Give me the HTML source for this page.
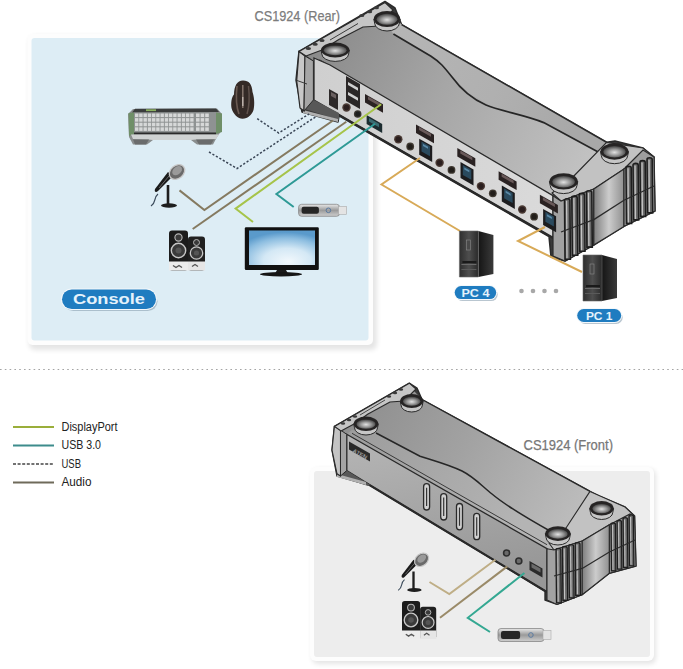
<!DOCTYPE html>
<html><head><meta charset="utf-8"><style>
html,body{margin:0;padding:0;background:#fff;width:683px;height:669px;overflow:hidden}
svg{display:block}
</style></head><body>
<svg width="683" height="669" viewBox="0 0 683 669" font-family="Liberation Sans">

<defs>
 <linearGradient id="topg" x1="0" y1="0" x2="1" y2="0.3">
  <stop offset="0" stop-color="#848484"/><stop offset="0.5" stop-color="#a6a6a6"/><stop offset="1" stop-color="#c2c2c2"/>
 </linearGradient>
 <linearGradient id="bandg" x1="0" y1="0" x2="1" y2="0.3">
  <stop offset="0" stop-color="#b6b6b6"/><stop offset="0.6" stop-color="#b0b0b0"/><stop offset="1" stop-color="#a8a8a8"/>
 </linearGradient>
 <linearGradient id="rearg" x1="0" y1="0" x2="1" y2="0">
  <stop offset="0" stop-color="#cfcfcf"/><stop offset="1" stop-color="#dadada"/>
 </linearGradient>
 <linearGradient id="capg" x1="0" y1="0" x2="1" y2="0">
  <stop offset="0" stop-color="#7e7e7e"/><stop offset="0.5" stop-color="#cccccc"/><stop offset="1" stop-color="#909090"/>
 </linearGradient>
 <linearGradient id="topg2" x1="0" y1="0" x2="1" y2="0.3">
  <stop offset="0" stop-color="#8a8a8a"/><stop offset="0.5" stop-color="#a2a2a2"/><stop offset="1" stop-color="#bebebe"/>
 </linearGradient>
 <linearGradient id="bandg2" x1="0" y1="0" x2="1" y2="0.3">
  <stop offset="0" stop-color="#9c9c9c"/><stop offset="1" stop-color="#b4b4b4"/>
 </linearGradient>
 <linearGradient id="frontg2" x1="0" y1="0" x2="0.25" y2="1">
  <stop offset="0" stop-color="#b6b6b6"/><stop offset="1" stop-color="#989898"/>
 </linearGradient>
 <linearGradient id="pcfront" x1="0" y1="0" x2="1" y2="0">
  <stop offset="0" stop-color="#2e2e2e"/><stop offset="0.5" stop-color="#4e4e4e"/><stop offset="1" stop-color="#2a2a2a"/>
 </linearGradient>
 <linearGradient id="pcside" x1="0" y1="0" x2="1" y2="0">
  <stop offset="0" stop-color="#151515"/><stop offset="1" stop-color="#3a3a3a"/>
 </linearGradient>
 <radialGradient id="footg" cx="0.5" cy="0.55" r="0.55">
  <stop offset="0" stop-color="#e2e2e2"/><stop offset="0.5" stop-color="#989898"/><stop offset="1" stop-color="#404040"/>
 </radialGradient>
 <radialGradient id="screeng" cx="0.55" cy="0.85" r="0.8" fx="0.6" fy="0.9">
  <stop offset="0" stop-color="#f2f8fc"/><stop offset="0.45" stop-color="#d4e8f5"/><stop offset="0.8" stop-color="#8cbde0"/><stop offset="1" stop-color="#5a9acb"/>
 </radialGradient>
 <linearGradient id="usbg" x1="0" y1="0" x2="0" y2="1">
  <stop offset="0" stop-color="#e8e8e8"/><stop offset="0.5" stop-color="#9a9a9a"/><stop offset="1" stop-color="#d0d0d0"/>
 </linearGradient>
 <linearGradient id="pcf" x1="0" y1="0" x2="1" y2="0">
  <stop offset="0" stop-color="#2a2a2a"/><stop offset="1" stop-color="#4a4a4a"/>
 </linearGradient>
 <filter id="sh" x="-5%" y="-5%" width="115%" height="115%">
  <feGaussianBlur stdDeviation="2.5"/>
 </filter>
</defs>

<rect x="29" y="36" width="348" height="314" rx="6" fill="#000" opacity="0.10" filter="url(#sh)"/>
<rect x="27.5" y="34" width="345.5" height="311" rx="5" fill="#fdfdfd"/>
<rect x="31.5" y="38" width="337" height="302.5" rx="3" fill="#ddedf5"/>
<rect x="312" y="469" width="344" height="195" rx="6" fill="#000" opacity="0.10" filter="url(#sh)"/>
<rect x="310" y="467" width="344" height="194" rx="6" fill="#fdfdfd"/>
<rect x="314" y="471" width="336" height="186" rx="3" fill="#ededed"/>
<line x1="0" y1="369.5" x2="683" y2="369.5" stroke="#a4a4a4" stroke-width="1.1" stroke-dasharray="1.6 3.2"/>
<text x="254.5" y="20.5" font-family="Liberation Sans" font-size="15.2" fill="#7c7c7c" stroke="#7c7c7c" stroke-width="0.25" textLength="85.5" lengthAdjust="spacingAndGlyphs">CS1924 (Rear)</text>
<text x="523.5" y="449.8" font-family="Liberation Sans" font-size="14" fill="#777" stroke="#777" stroke-width="0.25" textLength="89.5" lengthAdjust="spacingAndGlyphs">CS1924 (Front)</text>
<line x1="13" y1="427" x2="54" y2="427" stroke="#9aae3a" stroke-width="2.2"/>
<text x="61.5" y="430.5" font-family="Liberation Sans" font-size="12" fill="#222" textLength="56" lengthAdjust="spacingAndGlyphs">DisplayPort</text>
<line x1="13" y1="445.5" x2="54" y2="445.5" stroke="#3d8c8c" stroke-width="2.2"/>
<text x="61.5" y="449" font-family="Liberation Sans" font-size="12" fill="#222" textLength="39.5" lengthAdjust="spacingAndGlyphs">USB 3.0</text>
<line x1="13" y1="464" x2="54" y2="464" stroke="#444" stroke-width="1.4" stroke-dasharray="3 1.6"/>
<text x="61.5" y="467.5" font-family="Liberation Sans" font-size="12" fill="#222" textLength="19.5" lengthAdjust="spacingAndGlyphs">USB</text>
<line x1="13" y1="482.5" x2="54" y2="482.5" stroke="#6f6a5a" stroke-width="2.2"/>
<text x="61.5" y="486" font-family="Liberation Sans" font-size="12" fill="#222" textLength="30" lengthAdjust="spacingAndGlyphs">Audio</text>
<polygon points="299.0,51.4 385.0,1.5 395.0,8.0 401.6,24.6 606.6,142.3 615.0,141.0 643.0,148.0 654.0,157.0 655.0,211.0 624.0,226.4 593.8,245.0 565.0,261.0 551.0,257.0 549.0,236.6 339.0,115.9 338.0,122.0 302.0,112.0 296.0,80.0" fill="#3a3a3a" stroke="#2a2a2a" stroke-width="1.5" stroke-linejoin="round"/>
<polygon points="301.0,52.0 385.0,4.0 401.6,24.6 606.6,142.3 643.0,150.0 624.0,169.0 593.8,189.0 561.0,201.0 553.0,195.7 320.0,59.4 314.0,61.0" fill="url(#topg)"/>
<polygon points="401.6,24.6 606.6,142.3 604.6,155.4 543.7,122.6 496.8,108.5 468.7,93.3 449.6,74.0 431.0,56.2 393.4,34.0 385.0,20.0" fill="url(#bandg)"/>
<path d="M393.4,34 L431,56.2 C440,62 444,67 452,77 C460,88 470,98 486,105 C500,111 525,115 543.7,122.6 L604.6,155.4" fill="none" stroke="#262626" stroke-width="1.7"/>
<line x1="401.6" y1="24.6" x2="606.6" y2="142.3" stroke="#2a2a2a" stroke-width="1.6"/>
<path d="M607,165 L588,181 L553,194" fill="none" stroke="#444" stroke-width="1"/>
<polygon points="552.0,193.0 570.0,180.0 606.6,142.3 643.0,148.0 654.0,157.0 624.0,169.0 593.8,189.0 561.0,201.0" fill="#c2c2c2" stroke="#2a2a2a" stroke-width="1.2" stroke-linejoin="round"/>
<polygon points="314.0,58.0 330.0,65.0 553.0,195.7 553.0,237.4 314.0,100.0" fill="url(#rearg)" stroke="#2a2a2a" stroke-width="1.3"/>
<line x1="330" y1="110.0" x2="553" y2="238.2" stroke="#2a2a2a" stroke-width="1.8"/>
<polygon points="313.4,99.7 339.0,113.0 339.0,120.0 305.0,109.0" fill="#585858"/>
<polygon points="303,110 338,119 338,122 303,113" fill="#b0b0b0"/>
<polygon points="299.0,51.4 305.0,56.0 304.0,111.0 300.0,108.0 296.7,80.8" fill="#c8c8c8" stroke="#2a2a2a" stroke-width="1.2"/>
<polygon points="305.0,56.0 313.4,61.0 313.4,100.0 304.0,111.0" fill="#a6a6a6" stroke="#2a2a2a" stroke-width="1"/>
<line x1="297" y1="80.5" x2="307" y2="84" stroke="#3a3a3a" stroke-width="1"/>
<polygon points="553.0,195.7 561.0,201.0 593.8,189.0 593.8,245.0 565.0,261.0 553.0,256.0" fill="#a2a2a2" stroke="#2a2a2a" stroke-width="1.2"/>
<path d="M564.5,200.3 A2.7 1.6 0 0 1 569.9,200.3 L570.4,259.3 L565.0,259.3 Z" fill="#6a6a6a" stroke="#1e1e1e" stroke-width="1.56"/><line x1="566.6" y1="200.7" x2="567.0" y2="258.3" stroke="#c4c4c4" stroke-width="1.32"/>
<path d="M571.8,197.7 A2.7 1.6 0 0 1 577.2,197.7 L577.7,255.2 L572.3,255.2 Z" fill="#6a6a6a" stroke="#1e1e1e" stroke-width="1.56"/><line x1="573.9" y1="198.0" x2="574.3" y2="254.2" stroke="#c4c4c4" stroke-width="1.32"/>
<path d="M579.1,195.0 A2.7 1.6 0 0 1 584.5,195.0 L585.0,251.2 L579.6,251.2 Z" fill="#6a6a6a" stroke="#1e1e1e" stroke-width="1.56"/><line x1="581.2" y1="195.4" x2="581.6" y2="250.2" stroke="#c4c4c4" stroke-width="1.32"/>
<path d="M586.4,192.3 A2.7 1.6 0 0 1 591.8,192.3 L592.3,247.1 L586.9,247.1 Z" fill="#6a6a6a" stroke="#1e1e1e" stroke-width="1.56"/><line x1="588.5" y1="192.7" x2="588.9" y2="246.1" stroke="#c4c4c4" stroke-width="1.32"/>
<polygon points="593.8,189.0 624.0,169.0 624.0,226.4 593.8,245.0" fill="url(#capg)" stroke="#2a2a2a" stroke-width="1.2"/>
<line x1="593.8" y1="219.6" x2="624" y2="200.2" stroke="#2a2a2a" stroke-width="1.3"/>
<polygon points="624.0,169.0 643.0,150.0 654.0,157.0 655.0,211.0 624.0,226.4" fill="#9e9e9e" stroke="#2a2a2a" stroke-width="1.2"/>
<path d="M626.0,167.8 A2.6 1.6 0 0 1 631.2,167.8 L631.7,223.4 L626.5,223.4 Z" fill="#6a6a6a" stroke="#1e1e1e" stroke-width="1.56"/><line x1="628.0" y1="168.2" x2="628.4" y2="222.4" stroke="#c4c4c4" stroke-width="1.32"/>
<path d="M633.0,165.0 A2.6 1.6 0 0 1 638.2,165.0 L638.7,219.9 L633.5,219.9 Z" fill="#6a6a6a" stroke="#1e1e1e" stroke-width="1.56"/><line x1="635.0" y1="165.4" x2="635.4" y2="218.9" stroke="#c4c4c4" stroke-width="1.32"/>
<path d="M640.0,162.2 A2.6 1.6 0 0 1 645.2,162.2 L645.7,216.4 L640.5,216.4 Z" fill="#6a6a6a" stroke="#1e1e1e" stroke-width="1.56"/><line x1="642.0" y1="162.6" x2="642.4" y2="215.4" stroke="#c4c4c4" stroke-width="1.32"/>
<path d="M647.0,159.4 A2.6 1.6 0 0 1 652.2,159.4 L652.7,212.9 L647.5,212.9 Z" fill="#6a6a6a" stroke="#1e1e1e" stroke-width="1.56"/><line x1="649.0" y1="159.8" x2="649.4" y2="211.9" stroke="#c4c4c4" stroke-width="1.32"/>
<line x1="561" y1="232" x2="593.8" y2="219.6" stroke="#2a2a2a" stroke-width="1.2"/>
<line x1="624" y1="200.2" x2="654" y2="186" stroke="#2a2a2a" stroke-width="1.2"/>
<polygon points="299.0,51.5 385.0,2.5 393.0,10.0 380.0,26.0 363.0,27.0 338.8,39.5 322.0,50.0 306.0,56.0" fill="#c6c6c6" stroke="#2a2a2a" stroke-width="1.2" stroke-linejoin="round"/>
<ellipse cx="308.4" cy="48.5" rx="2.6" ry="1.5" fill="#3a3a3a"/>
<ellipse cx="315.2" cy="44.3" rx="2.6" ry="1.5" fill="#3a3a3a"/>
<ellipse cx="322" cy="40.5" rx="2.6" ry="1.5" fill="#3a3a3a"/>
<ellipse cx="361.8" cy="15.5" rx="2.6" ry="1.5" fill="#3a3a3a"/>
<ellipse cx="369.6" cy="11.7" rx="2.6" ry="1.5" fill="#3a3a3a"/>
<ellipse cx="376.4" cy="7.8" rx="2.6" ry="1.5" fill="#3a3a3a"/>
<path d="M330,40 L358,23.5" stroke="#3a3a3a" stroke-width="1" fill="none"/>
<path d="M373.8,19.0 L374.6,23.0 A12.4 8.0 0 0 0 399.4,23.0 L400.2,19.0 Z" fill="#c6c6c6" stroke="#2a2a2a" stroke-width="1"/>
<ellipse cx="387" cy="19" rx="13.2" ry="8" fill="#262424"/>
<ellipse cx="387" cy="19.3" rx="10.4" ry="5.5" fill="url(#footg)"/>
<path d="M321.0,50.0 L321.8,54.0 A13.4 7.4 0 0 0 348.6,54.0 L349.4,50.0 Z" fill="#c6c6c6" stroke="#2a2a2a" stroke-width="1"/>
<ellipse cx="335.2" cy="50" rx="14.2" ry="7.4" fill="#262424"/>
<ellipse cx="335.2" cy="50.3" rx="11.4" ry="4.9" fill="url(#footg)"/>
<path d="M600.5,151.5 L601.3,155.5 A13.2 8.2 0 0 0 627.7,155.5 L628.5,151.5 Z" fill="#c6c6c6" stroke="#2a2a2a" stroke-width="1"/>
<ellipse cx="614.5" cy="151.5" rx="14" ry="8.2" fill="#262424"/>
<ellipse cx="614.5" cy="151.8" rx="11.2" ry="5.7" fill="url(#footg)"/>
<path d="M549.4,181.4 L550.2,185.4 A13.4 8.2 0 0 0 577.0,185.4 L577.8,181.4 Z" fill="#c6c6c6" stroke="#2a2a2a" stroke-width="1"/>
<ellipse cx="563.6" cy="181.4" rx="14.2" ry="8.2" fill="#262424"/>
<ellipse cx="563.6" cy="181.7" rx="11.4" ry="5.7" fill="url(#footg)"/>
<polygon points="329.0,89.0 338.0,94.1 338.0,110.1 329.0,105.0" fill="#2e2a2a"/>
<polygon points="331.0,92.0 336.0,94.8 336.0,98.8 331.0,96.0" fill="#6a6060"/>
<polygon points="346.0,76.0 360.0,84.0 360.0,109.0 346.0,101.0" fill="#2a2626"/>
<polygon points="348.0,82.0 358.0,87.7 358.0,90.7 348.0,85.0" fill="#d0d0d0"/>
<polygon points="348.0,92.0 358.0,97.7 358.0,100.7 348.0,95.0" fill="#d0d0d0"/>
<polygon points="365.0,94.0 383.0,104.3 383.0,112.8 365.0,102.5" fill="#2a2222"/>
<polygon points="368.0,96.5 380.0,103.3 380.0,106.3 368.0,99.5" fill="#6a5a5a"/>
<polygon points="366.6,115.0 382.2,123.9 382.2,132.9 366.6,124.0" fill="#1c2c30"/>
<polygon points="369.0,118.0 379.0,123.7 379.0,127.2 369.0,121.5" fill="#3a6a70"/>
<circle cx="346.5" cy="107.5" r="4.2" fill="#4a3a34"/><circle cx="346.5" cy="107.5" r="2.8" fill="#2a1e1e"/>
<circle cx="357.7" cy="114" r="3.8" fill="#3a3630"/><circle cx="357.7" cy="114" r="2.5" fill="#1e1e1e"/>
<polygon points="416.0,124.5 434.0,134.8 434.0,143.3 416.0,133.0" fill="#2a2222"/>
<polygon points="419.0,127.0 431.0,133.8 431.0,136.8 419.0,130.0" fill="#6a5a5a"/>
<polygon points="419.2,138.7 432.2,146.1 432.2,162.1 419.2,154.7" fill="#1c1c1e"/>
<polygon points="421.5,141.5 430.0,146.3 430.0,156.3 421.5,151.5" fill="#2a4a5e"/>
<polygon points="423.0,144.0 428.0,146.8 428.0,148.8 423.0,146.0" fill="#5a8aa8"/>
<circle cx="398.3" cy="139.3" r="4.2" fill="#4a3a34"/><circle cx="398.3" cy="139.3" r="2.8" fill="#2a1e1e"/>
<circle cx="410.2" cy="146.5" r="3.9" fill="#3e3830"/><circle cx="410.2" cy="146.5" r="2.6" fill="#221e1a"/>
<polygon points="457.3,147.9 475.3,158.2 475.3,166.7 457.3,156.4" fill="#2a2222"/>
<polygon points="460.3,150.4 472.3,157.2 472.3,160.2 460.3,153.4" fill="#6a5a5a"/>
<polygon points="460.5,162.1 473.5,169.5 473.5,185.5 460.5,178.1" fill="#1c1c1e"/>
<polygon points="462.8,164.9 471.3,169.7 471.3,179.7 462.8,174.9" fill="#2a4a5e"/>
<polygon points="464.3,167.4 469.3,170.2 469.3,172.2 464.3,169.4" fill="#5a8aa8"/>
<circle cx="439.6" cy="162.7" r="4.2" fill="#4a3a34"/><circle cx="439.6" cy="162.7" r="2.8" fill="#2a1e1e"/>
<circle cx="451.5" cy="169.9" r="3.9" fill="#3e3830"/><circle cx="451.5" cy="169.9" r="2.6" fill="#221e1a"/>
<polygon points="498.6,171.3 516.6,181.6 516.6,190.1 498.6,179.8" fill="#2a2222"/>
<polygon points="501.6,173.8 513.6,180.6 513.6,183.6 501.6,176.8" fill="#6a5a5a"/>
<polygon points="501.8,185.5 514.8,192.9 514.8,208.9 501.8,201.5" fill="#1c1c1e"/>
<polygon points="504.1,188.3 512.6,193.1 512.6,203.1 504.1,198.3" fill="#2a4a5e"/>
<polygon points="505.6,190.8 510.6,193.7 510.6,195.7 505.6,192.8" fill="#5a8aa8"/>
<circle cx="480.9" cy="186.1" r="4.2" fill="#4a3a34"/><circle cx="480.9" cy="186.1" r="2.8" fill="#2a1e1e"/>
<circle cx="492.8" cy="193.3" r="3.9" fill="#3e3830"/><circle cx="492.8" cy="193.3" r="2.6" fill="#221e1a"/>
<polygon points="539.9,194.7 557.9,205.0 557.9,213.5 539.9,203.2" fill="#2a2222"/>
<polygon points="542.9,197.2 554.9,204.0 554.9,207.0 542.9,200.2" fill="#6a5a5a"/>
<polygon points="543.1,208.9 556.1,216.3 556.1,232.3 543.1,224.9" fill="#1c1c1e"/>
<polygon points="545.4,211.7 553.9,216.5 553.9,226.5 545.4,221.7" fill="#2a4a5e"/>
<polygon points="546.9,214.2 551.9,217.0 551.9,219.0 546.9,216.2" fill="#5a8aa8"/>
<circle cx="522.2" cy="209.5" r="4.2" fill="#4a3a34"/><circle cx="522.2" cy="209.5" r="2.8" fill="#2a1e1e"/>
<circle cx="534.1" cy="216.7" r="3.9" fill="#3e3830"/><circle cx="534.1" cy="216.7" r="2.6" fill="#221e1a"/>
<polyline points="257.2,118.7 278.7,133.0 309.0,114.0" fill="none" stroke="#3a4656" stroke-width="1.5" stroke-linejoin="miter" stroke-dasharray="2.2 1.8"/>
<polyline points="209.0,152.0 237.0,168.5 316.0,116.6" fill="none" stroke="#3a4656" stroke-width="1.5" stroke-linejoin="miter" stroke-dasharray="2.2 1.8"/>
<polyline points="179.5,190.4 204.4,210.0 333.0,120.5" fill="none" stroke="#857a60" stroke-width="2.0" stroke-linejoin="miter"/>
<polyline points="192.7,229.0 346.3,121.8" fill="none" stroke="#857a60" stroke-width="2.0" stroke-linejoin="miter"/>
<polyline points="253.0,222.0 235.6,208.6 381.2,104.3" fill="none" stroke="#a6c44a" stroke-width="2.0" stroke-linejoin="miter"/>
<polyline points="293.7,207.0 276.4,194.0 375.0,123.8" fill="none" stroke="#2e9a96" stroke-width="2.0" stroke-linejoin="miter"/>
<polyline points="420.0,158.0 381.5,184.5 460.0,231.0" fill="none" stroke="#d8aa58" stroke-width="2.0" stroke-linejoin="miter"/>
<polyline points="545.0,227.0 518.0,241.0 582.0,272.0" fill="none" stroke="#d8aa58" stroke-width="2.0" stroke-linejoin="miter"/>
<path d="M133,109 L217,108.5 L222,114 L222,130 L217,137 L213,144.5 L197,144.5 L191,140 L153,140 L147,144.5 L133,144.5 L129,137 L128,114 Z" fill="#8a8e8e"/>
<path d="M135,108.8 L216,108.5 L219,112 L132,112.5 Z" fill="#3a3c3c"/>
<rect x="146" y="109.3" width="10" height="1.8" fill="#8ab060"/>
<rect x="134" y="112.5" width="82" height="20" fill="#8e9292"/>
<rect x="135.0" y="113.5" width="3.4" height="3.6" fill="#d6d8d8"/>
<rect x="139.2" y="113.5" width="3.4" height="3.6" fill="#d6d8d8"/>
<rect x="143.5" y="113.5" width="3.4" height="3.6" fill="#d6d8d8"/>
<rect x="147.8" y="113.5" width="3.4" height="3.6" fill="#d6d8d8"/>
<rect x="152.0" y="113.5" width="3.4" height="3.6" fill="#d6d8d8"/>
<rect x="156.2" y="113.5" width="3.4" height="3.6" fill="#d6d8d8"/>
<rect x="160.5" y="113.5" width="3.4" height="3.6" fill="#d6d8d8"/>
<rect x="164.8" y="113.5" width="3.4" height="3.6" fill="#d6d8d8"/>
<rect x="169.0" y="113.5" width="3.4" height="3.6" fill="#d6d8d8"/>
<rect x="173.2" y="113.5" width="3.4" height="3.6" fill="#d6d8d8"/>
<rect x="177.5" y="113.5" width="3.4" height="3.6" fill="#d6d8d8"/>
<rect x="181.8" y="113.5" width="3.4" height="3.6" fill="#d6d8d8"/>
<rect x="186.0" y="113.5" width="3.4" height="3.6" fill="#d6d8d8"/>
<rect x="190.2" y="113.5" width="3.4" height="3.6" fill="#d6d8d8"/>
<rect x="135.0" y="118.1" width="3.4" height="3.6" fill="#d6d8d8"/>
<rect x="139.2" y="118.1" width="3.4" height="3.6" fill="#d6d8d8"/>
<rect x="143.5" y="118.1" width="3.4" height="3.6" fill="#d6d8d8"/>
<rect x="147.8" y="118.1" width="3.4" height="3.6" fill="#d6d8d8"/>
<rect x="152.0" y="118.1" width="3.4" height="3.6" fill="#d6d8d8"/>
<rect x="156.2" y="118.1" width="3.4" height="3.6" fill="#d6d8d8"/>
<rect x="160.5" y="118.1" width="3.4" height="3.6" fill="#d6d8d8"/>
<rect x="164.8" y="118.1" width="3.4" height="3.6" fill="#d6d8d8"/>
<rect x="169.0" y="118.1" width="3.4" height="3.6" fill="#d6d8d8"/>
<rect x="173.2" y="118.1" width="3.4" height="3.6" fill="#d6d8d8"/>
<rect x="177.5" y="118.1" width="3.4" height="3.6" fill="#d6d8d8"/>
<rect x="181.8" y="118.1" width="3.4" height="3.6" fill="#d6d8d8"/>
<rect x="186.0" y="118.1" width="3.4" height="3.6" fill="#d6d8d8"/>
<rect x="190.2" y="118.1" width="3.4" height="3.6" fill="#d6d8d8"/>
<rect x="135.0" y="122.7" width="3.4" height="3.6" fill="#d6d8d8"/>
<rect x="139.2" y="122.7" width="3.4" height="3.6" fill="#d6d8d8"/>
<rect x="143.5" y="122.7" width="3.4" height="3.6" fill="#d6d8d8"/>
<rect x="147.8" y="122.7" width="3.4" height="3.6" fill="#d6d8d8"/>
<rect x="152.0" y="122.7" width="3.4" height="3.6" fill="#d6d8d8"/>
<rect x="156.2" y="122.7" width="3.4" height="3.6" fill="#d6d8d8"/>
<rect x="160.5" y="122.7" width="3.4" height="3.6" fill="#d6d8d8"/>
<rect x="164.8" y="122.7" width="3.4" height="3.6" fill="#d6d8d8"/>
<rect x="169.0" y="122.7" width="3.4" height="3.6" fill="#d6d8d8"/>
<rect x="173.2" y="122.7" width="3.4" height="3.6" fill="#d6d8d8"/>
<rect x="177.5" y="122.7" width="3.4" height="3.6" fill="#d6d8d8"/>
<rect x="181.8" y="122.7" width="3.4" height="3.6" fill="#d6d8d8"/>
<rect x="186.0" y="122.7" width="3.4" height="3.6" fill="#d6d8d8"/>
<rect x="190.2" y="122.7" width="3.4" height="3.6" fill="#d6d8d8"/>
<rect x="135.0" y="127.3" width="3.4" height="3.6" fill="#d6d8d8"/>
<rect x="139.2" y="127.3" width="3.4" height="3.6" fill="#d6d8d8"/>
<rect x="143.5" y="127.3" width="3.4" height="3.6" fill="#d6d8d8"/>
<rect x="147.8" y="127.3" width="3.4" height="3.6" fill="#d6d8d8"/>
<rect x="152.0" y="127.3" width="3.4" height="3.6" fill="#d6d8d8"/>
<rect x="156.2" y="127.3" width="3.4" height="3.6" fill="#d6d8d8"/>
<rect x="160.5" y="127.3" width="3.4" height="3.6" fill="#d6d8d8"/>
<rect x="164.8" y="127.3" width="3.4" height="3.6" fill="#d6d8d8"/>
<rect x="169.0" y="127.3" width="3.4" height="3.6" fill="#d6d8d8"/>
<rect x="173.2" y="127.3" width="3.4" height="3.6" fill="#d6d8d8"/>
<rect x="177.5" y="127.3" width="3.4" height="3.6" fill="#d6d8d8"/>
<rect x="181.8" y="127.3" width="3.4" height="3.6" fill="#d6d8d8"/>
<rect x="186.0" y="127.3" width="3.4" height="3.6" fill="#d6d8d8"/>
<rect x="190.2" y="127.3" width="3.4" height="3.6" fill="#d6d8d8"/>
<rect x="196.0" y="113.5" width="3.6" height="3.6" fill="#d6d8d8"/>
<rect x="200.6" y="113.5" width="3.6" height="3.6" fill="#d6d8d8"/>
<rect x="205.2" y="113.5" width="3.6" height="3.6" fill="#d6d8d8"/>
<rect x="196.0" y="118.1" width="3.6" height="3.6" fill="#d6d8d8"/>
<rect x="200.6" y="118.1" width="3.6" height="3.6" fill="#d6d8d8"/>
<rect x="205.2" y="118.1" width="3.6" height="3.6" fill="#d6d8d8"/>
<rect x="196.0" y="122.7" width="3.6" height="3.6" fill="#d6d8d8"/>
<rect x="200.6" y="122.7" width="3.6" height="3.6" fill="#d6d8d8"/>
<rect x="205.2" y="122.7" width="3.6" height="3.6" fill="#d6d8d8"/>
<rect x="196.0" y="127.3" width="3.6" height="3.6" fill="#d6d8d8"/>
<rect x="200.6" y="127.3" width="3.6" height="3.6" fill="#d6d8d8"/>
<rect x="205.2" y="127.3" width="3.6" height="3.6" fill="#d6d8d8"/>
<path d="M128.5,113 L134,112.5 L134,134 L129,136 Z" fill="#6f8f68"/>
<path d="M216,112.5 L222,113.5 L222,132 L216,134 Z" fill="#6f8f68"/>
<rect x="134" y="132.5" width="82" height="2" fill="#2a2a2a"/>
<path d="M131,134.5 L219,134.5 L216,139 L196,139.5 L191,140 L153,140 L148,139.5 L133,139 Z" fill="#cfd2d2"/>
<path d="M133,139.5 L149,139.5 L146,144.5 L135,144.5 Z" fill="#6a6c6c"/>
<path d="M196,139.5 L214,139.5 L211,144.5 L199,144.5 Z" fill="#6a6c6c"/>
<path d="M243,80.4 C249,80.4 252,84 252.5,92 C254,96 255,104 253.5,110 C252,114.5 248,118.8 242.5,118.8 C238,118.8 233,114 231.5,108 C230.8,103 231.5,97 234,94.5 C234,86 237,80.4 243,80.4 Z" fill="#342a26"/>
<path d="M237,86 C236,95 236,106 239,114" stroke="#6a5a52" stroke-width="1.6" fill="none"/>
<path d="M248.5,86 C249.5,95 249.5,106 247,114" stroke="#5e504a" stroke-width="1.5" fill="none"/>
<path d="M242.8,85 L242.8,108" stroke="#8a7a72" stroke-width="1.4"/>
<path d="M242.8,97 L242.8,106" stroke="#c8beb8" stroke-width="1.2"/>
<path d="M158.0,194.0 C153.0,198.0 157.0,202.0 151.0,206.0" stroke="#3a4a5a" stroke-width="1.20" fill="none"/>
<line x1="168.0" y1="185.0" x2="168.0" y2="205.0" stroke="#1e1e1e" stroke-width="2.60"/>
<ellipse cx="169.0" cy="205.5" rx="8.0" ry="2.2" fill="#1e1e1e"/>
<path d="M173.0,176.0 L158.0,191.0 C156.0,193.0 154.0,192.0 155.0,189.0 L168.0,172.0 Z" fill="#1a1a1a"/>
<path d="M159.0,188.0 L169.0,176.0" stroke="#6a6a6a" stroke-width="1.00"/>
<ellipse cx="177.0" cy="172.0" rx="8.5" ry="6.5" transform="rotate(-40 177.0 172.0)" fill="#6a6a6a" stroke="#c8c8c8" stroke-width="1.30"/>
<ellipse cx="178.0" cy="171.0" rx="5.5" ry="3.8" transform="rotate(-40 177.0 172.0)" fill="#9a9a9a"/>
<rect x="169" y="230.5" width="19.0" height="40.0" rx="3.0" fill="#1c1c1c"/>
<rect x="169" y="261.5" width="19.0" height="9.0" fill="#ececec"/>
<circle cx="178.5" cy="237.5" r="3.6" fill="#3a3a3a" stroke="#b8b8b8" stroke-width="1.10"/>
<circle cx="178.5" cy="250.5" r="7.2" fill="#3a3a3a" stroke="#c8c8c8" stroke-width="1.40"/>
<circle cx="178.5" cy="250.5" r="3.0" fill="#555"/>
<path d="M173.0,265.5 l3.0,2.0 l3.0,-2.0 l3.0,2.0" stroke="#555" stroke-width="1.40" fill="none"/>
<rect x="188.0" y="236.5" width="17.0" height="34.0" rx="3.0" fill="#202020"/>
<rect x="188.0" y="261.5" width="17.0" height="9.0" fill="#e6e6e6"/>
<circle cx="196.5" cy="242.5" r="3.0" fill="#3a3a3a" stroke="#b8b8b8" stroke-width="1.00"/>
<circle cx="196.5" cy="253.0" r="6.2" fill="#3a3a3a" stroke="#c8c8c8" stroke-width="1.30"/>
<circle cx="196.5" cy="253.0" r="2.6" fill="#555"/>
<path d="M192.0,266.5 l3.0,-2.0 l3.0,2.0" stroke="#555" stroke-width="1.30" fill="none"/>
<rect x="244.8" y="227.2" width="74" height="42.8" rx="1.2" fill="#111"/>
<rect x="249" y="230.5" width="66" height="34.5" fill="url(#screeng)"/>
<path d="M277,270 L286,270 L288,273.5 L275,273.5 Z" fill="#1a1a1a"/>
<ellipse cx="281" cy="274.3" rx="21" ry="2.2" fill="#151515"/>
<rect x="298.6" y="204.3" width="41" height="12" rx="3" fill="url(#usbg)" stroke="#7a7a7a" stroke-width="0.7"/>
<rect x="338.6" y="206.3" width="8" height="8" fill="#e4e4e4" stroke="#aaa" stroke-width="0.6"/>
<rect x="301.6" y="206.8" width="17.3" height="7" rx="2" fill="#262626"/>
<circle cx="328.4" cy="210.3" r="2.3" fill="none" stroke="#5a7aa0" stroke-width="1"/>
<polygon points="478.4,231.0 493.4,235.0 493.4,274.0 478.4,277.0" fill="url(#pcside)"/>
<polygon points="459.4,231.0 478.4,231.0 478.4,277.0 459.4,277.0" fill="url(#pcfront)" stroke="#6a6a6a" stroke-width="0.6"/>
<rect x="466.4" y="240" width="4" height="10" fill="#4a4a4a" stroke="#8a8a8a" stroke-width="0.6"/>
<rect x="462.4" y="261" width="14" height="2.2" fill="#1a1a1a"/>
<rect x="461.4" y="264" width="15" height="1" fill="#6a6a6a"/>
<rect x="461.4" y="269" width="15" height="1" fill="#5a5a5a"/>
<polygon points="602.0,255.0 617.0,259.0 617.0,298.0 602.0,301.0" fill="url(#pcside)"/>
<polygon points="583.0,255.0 602.0,255.0 602.0,301.0 583.0,301.0" fill="url(#pcfront)" stroke="#6a6a6a" stroke-width="0.6"/>
<rect x="590" y="264" width="4" height="10" fill="#4a4a4a" stroke="#8a8a8a" stroke-width="0.6"/>
<rect x="586" y="285" width="14" height="2.2" fill="#1a1a1a"/>
<rect x="585" y="288" width="15" height="1" fill="#6a6a6a"/>
<rect x="585" y="293" width="15" height="1" fill="#5a5a5a"/>
<rect x="63.5" y="291.5" width="94" height="19.5" rx="9.75" fill="#8aa0b0" opacity="0.6"/>
<rect x="61" y="288.5" width="96" height="21.5" rx="10.75" fill="#f4f8fb"/>
<rect x="62" y="289.5" width="94" height="19.5" rx="9.75" fill="#1f7cc0"/>
<text x="109.0" y="304" text-anchor="middle" font-family="Liberation Sans" font-weight="bold" font-size="15.5" fill="#e4f2fb" textLength="72" lengthAdjust="spacingAndGlyphs">Console</text>
<rect x="456.2" y="288.1" width="41.5" height="13" rx="6.5" fill="#8aa0b0" opacity="0.6"/>
<rect x="453.7" y="285.1" width="43.5" height="15" rx="7.5" fill="#f4f8fb"/>
<rect x="454.7" y="286.1" width="41.5" height="13" rx="6.5" fill="#1f7cc0"/>
<text x="475.45" y="296.5" text-anchor="middle" font-family="Liberation Sans" font-weight="bold" font-size="10" fill="#e4f2fb" textLength="28" lengthAdjust="spacingAndGlyphs">PC 4</text>
<rect x="578.7" y="311" width="44" height="13" rx="6.5" fill="#8aa0b0" opacity="0.6"/>
<rect x="576.2" y="308" width="46" height="15" rx="7.5" fill="#f4f8fb"/>
<rect x="577.2" y="309" width="44" height="13" rx="6.5" fill="#1f7cc0"/>
<text x="599.2" y="319.6" text-anchor="middle" font-family="Liberation Sans" font-weight="bold" font-size="10" fill="#e4f2fb" textLength="26.6" lengthAdjust="spacingAndGlyphs">PC 1</text>
<circle cx="521.5" cy="291" r="2.3" fill="#a8a8a8"/>
<circle cx="533" cy="291" r="2.3" fill="#a8a8a8"/>
<circle cx="544.5" cy="291" r="2.3" fill="#a8a8a8"/>
<circle cx="556" cy="291" r="2.3" fill="#a8a8a8"/>
<polygon points="334.4,426.4 409.3,383.2 417.0,388.0 422.0,399.5 590.0,491.4 601.0,497.0 625.0,507.0 634.6,516.0 636.0,566.0 609.4,573.3 582.2,594.6 557.0,604.4 545.0,600.0 545.0,591.4 366.0,483.3 365.0,484.0 337.0,476.0 332.0,450.0" fill="#3a3a3a" stroke="#2a2a2a" stroke-width="1.4" stroke-linejoin="round"/>
<polygon points="336.0,427.0 409.3,386.0 422.0,399.5 590.0,491.4 632.0,514.0 609.4,524.7 582.2,542.0 554.0,550.0 547.0,548.7 346.7,434.3 340.5,430.0" fill="url(#topg2)"/>
<line x1="422" y1="399.5" x2="590" y2="491.4" stroke="#2a2a2a" stroke-width="1.4"/>
<polygon points="376.0,433.0 420.0,456.2 459.5,469.4 485.9,485.9 507.9,505.7 543.0,527.6 551.8,532.0 547.0,548.7 346.7,434.3 352.0,430.0" fill="url(#bandg2)"/>
<path d="M376,433 L420,456.2 C435,461 450,465 462,471 C474,477 482,486 492,494 C505,505 525,517 551.8,532" fill="none" stroke="#262626" stroke-width="1.5"/>
<polygon points="549.0,543.0 566.0,528.0 590.0,491.4 625.0,507.0 634.6,516.0 609.4,524.7 582.2,541.0 554.0,550.0" fill="#c2c2c2" stroke="#2a2a2a" stroke-width="1.1" stroke-linejoin="round"/>
<line x1="352" y1="433.3" x2="547" y2="544.7" stroke="#3a3a3a" stroke-width="1"/>
<polygon points="346.7,434.3 547.0,548.7 547.0,591.6 365.0,481.7 346.7,470.6" fill="url(#frontg2)" stroke="#2a2a2a" stroke-width="1.3"/>
<line x1="366" y1="482.9" x2="547" y2="592.2" stroke="#2a2a2a" stroke-width="1.6"/>
<polygon points="346.7,470.6 370.0,484.7 368.0,486.0 338.0,476.0" fill="#585858"/>
<polygon points="337,474 366,482 366,485 337,477" fill="#b0b0b0"/>
<polygon points="334.4,426.4 340.5,430.0 340.5,476.0 337.0,473.8 332.0,450.0" fill="#c4c4c4" stroke="#2a2a2a" stroke-width="1.1"/>
<polygon points="340.5,430.0 346.7,434.3 346.7,470.6 340.5,476.0" fill="#a4a4a4" stroke="#2a2a2a" stroke-width="1"/>
<polygon points="334.4,426.4 409.3,383.2 416.0,389.0 404.0,401.0 390.0,402.0 368.0,414.0 354.0,424.0 341.0,431.0" fill="#c6c6c6" stroke="#2a2a2a" stroke-width="1.1" stroke-linejoin="round"/>
<path d="M360,415 L385,400" stroke="#3a3a3a" stroke-width="0.9" fill="none"/>
<ellipse cx="343" cy="423.5" rx="2.2" ry="1.3" fill="#3a3a3a"/>
<ellipse cx="349" cy="420" rx="2.2" ry="1.3" fill="#3a3a3a"/>
<ellipse cx="355" cy="416.5" rx="2.2" ry="1.3" fill="#3a3a3a"/>
<ellipse cx="389" cy="396.5" rx="2.2" ry="1.3" fill="#3a3a3a"/>
<ellipse cx="395" cy="393" rx="2.2" ry="1.3" fill="#3a3a3a"/>
<ellipse cx="401" cy="389.5" rx="2.2" ry="1.3" fill="#3a3a3a"/>
<polygon points="547.0,548.7 554.0,550.0 582.2,541.0 582.2,594.6 557.0,604.4 547.0,600.0" fill="#a2a2a2" stroke="#2a2a2a" stroke-width="1.1"/>
<path d="M556.0,549.8 A2.4 1.4 0 0 1 560.8,549.8 L561.3,602.8 L556.5,602.8 Z" fill="#6a6a6a" stroke="#1e1e1e" stroke-width="1.30"/><line x1="557.8" y1="550.4" x2="558.2" y2="601.8" stroke="#c4c4c4" stroke-width="1.10"/>
<path d="M562.4,547.9 A2.4 1.4 0 0 1 567.2,547.9 L567.7,600.3 L562.9,600.3 Z" fill="#6a6a6a" stroke="#1e1e1e" stroke-width="1.30"/><line x1="564.2" y1="548.5" x2="564.6" y2="599.3" stroke="#c4c4c4" stroke-width="1.10"/>
<path d="M568.8,546.0 A2.4 1.4 0 0 1 573.6,546.0 L574.1,597.8 L569.3,597.8 Z" fill="#6a6a6a" stroke="#1e1e1e" stroke-width="1.30"/><line x1="570.6" y1="546.6" x2="571.0" y2="596.8" stroke="#c4c4c4" stroke-width="1.10"/>
<path d="M575.2,544.1 A2.4 1.4 0 0 1 580.0,544.1 L580.5,595.3 L575.7,595.3 Z" fill="#6a6a6a" stroke="#1e1e1e" stroke-width="1.30"/><line x1="577.0" y1="544.6" x2="577.4" y2="594.3" stroke="#c4c4c4" stroke-width="1.10"/>
<polygon points="582.2,541.0 609.4,524.7 609.4,573.3 582.2,594.6" fill="url(#capg)" stroke="#2a2a2a" stroke-width="1.1"/>
<line x1="582.2" y1="568.4" x2="609.4" y2="551.9" stroke="#2a2a2a" stroke-width="1.2"/>
<polygon points="609.4,524.7 630.0,514.0 634.6,517.0 636.0,566.0 609.4,573.3" fill="#9e9e9e" stroke="#2a2a2a" stroke-width="1.1"/>
<path d="M611.0,524.3 A2.2 1.3 0 0 1 615.4,524.3 L615.9,570.9 L611.5,570.9 Z" fill="#6a6a6a" stroke="#1e1e1e" stroke-width="1.30"/><line x1="612.6" y1="525.0" x2="613.0" y2="569.9" stroke="#c4c4c4" stroke-width="1.10"/>
<path d="M617.0,521.6 A2.2 1.3 0 0 1 621.4,521.6 L621.9,569.2 L617.5,569.2 Z" fill="#6a6a6a" stroke="#1e1e1e" stroke-width="1.30"/><line x1="618.6" y1="522.3" x2="619.0" y2="568.2" stroke="#c4c4c4" stroke-width="1.10"/>
<path d="M623.0,518.9 A2.2 1.3 0 0 1 627.4,518.9 L627.9,567.5 L623.5,567.5 Z" fill="#6a6a6a" stroke="#1e1e1e" stroke-width="1.30"/><line x1="624.6" y1="519.6" x2="625.0" y2="566.5" stroke="#c4c4c4" stroke-width="1.10"/>
<path d="M629.0,516.2 A2.2 1.3 0 0 1 633.4,516.2 L633.9,565.8 L629.5,565.8 Z" fill="#6a6a6a" stroke="#1e1e1e" stroke-width="1.30"/><line x1="630.6" y1="516.9" x2="631.0" y2="564.8" stroke="#c4c4c4" stroke-width="1.10"/>
<line x1="554" y1="576" x2="582.2" y2="568.4" stroke="#2a2a2a" stroke-width="1.1"/>
<line x1="609.4" y1="551.9" x2="635" y2="540" stroke="#2a2a2a" stroke-width="1.1"/>
<path d="M400.2,401.0 L401.0,405.0 A10.7 7.0 0 0 0 422.4,405.0 L423.2,401.0 Z" fill="#c6c6c6" stroke="#2a2a2a" stroke-width="1"/>
<ellipse cx="411.7" cy="401" rx="11.5" ry="7" fill="#262424"/>
<ellipse cx="411.7" cy="401.3" rx="8.7" ry="4.5" fill="url(#footg)"/>
<path d="M353.7,423.8 L354.5,427.8 A11.5 7.2 0 0 0 377.5,427.8 L378.3,423.8 Z" fill="#c6c6c6" stroke="#2a2a2a" stroke-width="1"/>
<ellipse cx="366" cy="423.8" rx="12.3" ry="7.2" fill="#262424"/>
<ellipse cx="366" cy="424.1" rx="9.5" ry="4.7" fill="url(#footg)"/>
<path d="M589.6,508.3 L590.4,512.3 A11.2 7.2 0 0 0 612.8,512.3 L613.6,508.3 Z" fill="#c6c6c6" stroke="#2a2a2a" stroke-width="1"/>
<ellipse cx="601.6" cy="508.3" rx="12" ry="7.2" fill="#262424"/>
<ellipse cx="601.6" cy="508.6" rx="9.2" ry="4.7" fill="url(#footg)"/>
<path d="M545.3,533.6 L546.1,537.6 A11.8 7.4 0 0 0 569.7,537.6 L570.5,533.6 Z" fill="#c6c6c6" stroke="#2a2a2a" stroke-width="1"/>
<ellipse cx="557.9" cy="533.6" rx="12.6" ry="7.4" fill="#262424"/>
<ellipse cx="557.9" cy="533.9" rx="9.8" ry="4.9" fill="url(#footg)"/>
<polygon points="349.0,441.5 370.0,453.5 370.0,461.5 349.0,449.5" fill="#2a2a2a"/>
<text x="352" y="452" font-family="Liberation Sans" font-weight="bold" font-size="6" fill="#999" transform="rotate(29 352 452)">ATEN</text>
<rect x="423.6" y="483.7" width="6" height="26.30000000000001" rx="3" fill="#d0d0d0" stroke="#2a2a2a" stroke-width="1.3"/>
<line x1="426.6" y1="487.7" x2="426.6" y2="506" stroke="#333" stroke-width="1.2"/>
<rect x="440.7" y="493.6" width="6" height="26.399999999999977" rx="3" fill="#d0d0d0" stroke="#2a2a2a" stroke-width="1.3"/>
<line x1="443.7" y1="497.6" x2="443.7" y2="516" stroke="#333" stroke-width="1.2"/>
<rect x="456.5" y="503.5" width="6" height="26.299999999999955" rx="3" fill="#d0d0d0" stroke="#2a2a2a" stroke-width="1.3"/>
<line x1="459.5" y1="507.5" x2="459.5" y2="525.8" stroke="#333" stroke-width="1.2"/>
<rect x="473.7" y="513.3" width="6" height="26.40000000000009" rx="3" fill="#d0d0d0" stroke="#2a2a2a" stroke-width="1.3"/>
<line x1="476.7" y1="517.3" x2="476.7" y2="535.7" stroke="#333" stroke-width="1.2"/>
<circle cx="506.6" cy="553" r="3.8" fill="#2e2e2e"/><circle cx="506.6" cy="553" r="2.2" fill="#6a6a6a"/>
<circle cx="518.8" cy="561" r="3.8" fill="#2e2e2e"/><circle cx="518.8" cy="561" r="2.2" fill="#6a6a6a"/>
<polygon points="529.5,561.0 542.5,568.4 542.5,577.4 529.5,570.0" fill="#2a2a2a"/>
<polygon points="531.5,563.5 540.5,568.6 540.5,572.6 531.5,567.5" fill="#6a6a6a"/>
<polyline points="429.5,582.0 449.3,594.0 495.4,559.8" fill="none" stroke="#bfae86" stroke-width="2.0" stroke-linejoin="miter"/>
<polyline points="440.0,617.8 507.3,566.4" fill="none" stroke="#9a8a68" stroke-width="2.0" stroke-linejoin="miter"/>
<polyline points="490.0,632.0 467.8,617.8 524.4,573.0" fill="none" stroke="#34a892" stroke-width="2.0" stroke-linejoin="miter"/>
<path d="M404.5,579.6 C400.0,583.2 403.6,586.8 398.2,590.4" stroke="#3a4a5a" stroke-width="1.08" fill="none"/>
<line x1="413.5" y1="571.5" x2="413.5" y2="589.5" stroke="#1e1e1e" stroke-width="2.34"/>
<ellipse cx="414.4" cy="589.9" rx="7.2" ry="2.0" fill="#1e1e1e"/>
<path d="M418.0,563.4 L404.5,576.9 C402.7,578.7 400.9,577.8 401.8,575.1 L413.5,559.8 Z" fill="#1a1a1a"/>
<path d="M405.4,574.2 L414.4,563.4" stroke="#6a6a6a" stroke-width="0.90"/>
<ellipse cx="421.6" cy="559.8" rx="7.7" ry="5.9" transform="rotate(-40 421.6 559.8)" fill="#6a6a6a" stroke="#c8c8c8" stroke-width="1.17"/>
<ellipse cx="422.5" cy="558.9" rx="5.0" ry="3.4" transform="rotate(-40 421.6 559.8)" fill="#9a9a9a"/>
<rect x="402" y="601" width="18.1" height="38.0" rx="2.8" fill="#1c1c1c"/>
<rect x="402" y="630.5" width="18.1" height="8.5" fill="#ececec"/>
<circle cx="411.0" cy="607.6" r="3.4" fill="#3a3a3a" stroke="#b8b8b8" stroke-width="1.04"/>
<circle cx="411.0" cy="620.0" r="6.8" fill="#3a3a3a" stroke="#c8c8c8" stroke-width="1.33"/>
<circle cx="411.0" cy="620.0" r="2.8" fill="#555"/>
<path d="M405.8,634.2 l2.8,1.9 l2.8,-1.9 l2.8,1.9" stroke="#555" stroke-width="1.33" fill="none"/>
<rect x="420.1" y="606.7" width="16.1" height="32.3" rx="2.8" fill="#202020"/>
<rect x="420.1" y="630.5" width="16.1" height="8.5" fill="#e6e6e6"/>
<circle cx="428.1" cy="612.4" r="2.8" fill="#3a3a3a" stroke="#b8b8b8" stroke-width="0.95"/>
<circle cx="428.1" cy="622.4" r="5.9" fill="#3a3a3a" stroke="#c8c8c8" stroke-width="1.23"/>
<circle cx="428.1" cy="622.4" r="2.5" fill="#555"/>
<path d="M423.9,635.2 l2.8,-1.9 l2.8,1.9" stroke="#555" stroke-width="1.23" fill="none"/>
<rect x="498" y="628.5" width="46" height="13" rx="3" fill="url(#usbg)" stroke="#7a7a7a" stroke-width="0.7"/>
<rect x="543" y="630.5" width="8" height="9" fill="#e4e4e4" stroke="#aaa" stroke-width="0.6"/>
<rect x="501" y="631.0" width="19.1" height="8" rx="2" fill="#262626"/>
<circle cx="530.9" cy="635.0" r="2.3" fill="none" stroke="#5a7aa0" stroke-width="1"/>
</svg>
</body></html>
